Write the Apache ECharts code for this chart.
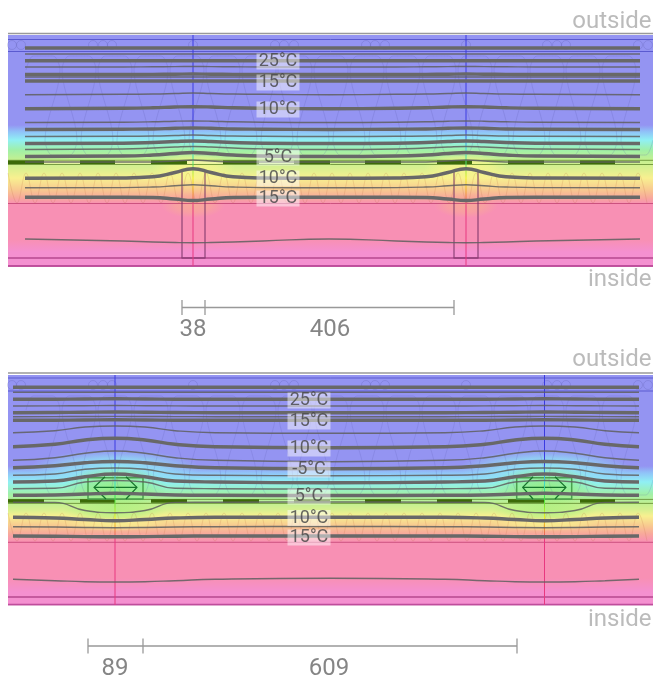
<!DOCTYPE html>
<html><head><meta charset="utf-8">
<style>html,body{margin:0;padding:0;background:#fff}#c{width:653px;height:677px}</style>
<script src="https://cdn.jsdelivr.net/npm/echarts@6/dist/echarts.min.js"></script>
</head><body><div id="c"></div>
<script>
// isotherm profiles: y at distance-from-stud levels [far, mid, near, close, at stud]
const topIsoThick = [
 [48,48,48,48,48],[60.7,60.7,60.7,60.7,60.7],[74.5,74.5,74.4,74.2,74],[81,81,81,81,81],
 [108.7,108.3,107.8,107,106.7],[129.5,129.2,129,128.3,128],[143.5,143.2,142.5,141.5,141],
 [156.5,156,155,153.5,152.5],[178.3,178,176.8,172.5,168.8],[197.3,197.3,197.5,199,200.5]];
const topIsoThin = [
 [54,54,54,54,54],[67,67,66.8,66.6,66.5],[77,77,77,77,77],[94.7,94.3,94,93.5,93],
 [122.5,122.2,121.8,121.2,121],[136.5,136.3,136,135.5,135],[149.5,149,148,147,146.5],
 [162,162,162,161,160],[187.7,187.6,187,185.8,184.7],[239,241,242,242.5,242.7]];
const botIsoThick = [
 [387.3,387.3,387.3,387.3,387.3],[399.3,399.3,399.2,399,398.7],[412.7,412.7,412.5,412.2,412],
 [420.3,420.3,420.2,420,419.7],[447.7,446.7,444.3,440,438.3],[468.7,467.7,465.7,462.7,461.5],
 [482.7,482,481,476.7,474],[495.5,495.3,495,494,493.3],[517.3,517.3,518,519.5,520.7],[536,536,536.2,536.6,536.7]];
const botIsoThin = [
 [392.3,392.3,392.3,392.3,392.3],[406,406,405.9,405.7,405.5],[416.7,416.7,416.6,416.5,416.4],
 [433.3,432.7,430.7,427,426],[461.7,460.3,457.7,453.3,451],[475.7,475.3,474,469.3,468],
 [489,488.7,488.3,482,480.5],[502,502.2,502.4,510.5,512.7],[526.5,526.7,527,527.5,527.7],[578.3,579.3,580.7,581.7,582]];
// knots: x position and which profile level applies there
const topKnotX   = [25,123,153,175,193,211,233,263,329,396,426,448,466,484,506,536,640];
const topKnotLvl = [0,1,2,3,4,3,2,1,0,1,2,3,4,3,2,1,0];
const botKnotX   = [13,55,85,115,145,175,215,330,445,485,515,544.5,575,605,639];
const botKnotLvl = [1,2,3,4,3,2,1,0,1,2,3,4,3,2,1];

// temperature colour bands
const bandColors = ['#9494f2','#9494f2','#90c4f8','#90f0f4','#a0f0a8','#c4f090','#d8f090','#f8f090','#f8c890','#f8a89c','#f890b4','#f890b4','#f490d0','#f490d0'];
const topBandY = [35,125,132,140,150,160,168,178,190,198,204,240,252,266.5];
const botBandY = [375,466,473,482,494,504,510,516,526,534,542,578,592,605];

// structure
const studTop = [193,466];
const studBot = [115,544.5];
const panelTopY = [33.5,373];
const blueLines = [39.5,51.5,378,391];
const plateThin = [203.5,542.3];
const plateMid = [258,597];
const plateEdge = [266,604.7];
const membraneDarkX = [[8,44],[80,115],[151,187],[223,259],[294,330],[365,401],[437,472],[508,544],[580,615]];
const membraneLightTopX = [[44,80],[115,151],[187,223]];
const membraneY = [162.2,501];
const membraneEdges = [160.3,164.5,499.4,503.4];
const studRects = [[182,205],[454,478]];
const studRectY = [171,258];
const boxRects = [[88,143],[516.7,571.7]];
const boxRectY = [477.7,499];
const diamondL = [[105,476.7],[94,487.4],[106,499]];
const diamondR = [[126,476.7],[137,487.4],[126,499]];
const diamondMid = [[94,487.4],[137,487.4]];
const diamond2L = [[533,476.7],[522.7,487.4],[533,499]];
const diamond2R = [[555,476.7],[566,487.4],[555,499]];
const diamond2Mid = [[522.7,487.4],[566,487.4]];

// thermal glows at the studs: x, y, w, h, colour
const glowX = [193,466,193,466,115,544.5,115,544.5,115,544.5,115,544.5];
const glowY = [168,168,205,205,468,468,487,487,510,510,524,524];
const glowW = [84,84,64,64,170,170,104,104,104,104,110,110];
const glowH = [30,30,26,26,36,36,42,42,26,26,14,14];
const glowC = ['rgba(250,246,140,','rgba(250,246,140,','rgba(248,170,150,','rgba(248,170,150,',
 'rgba(144,240,244,','rgba(144,240,244,','rgba(150,238,130,','rgba(150,238,130,','rgba(176,240,130,','rgba(176,240,130,','rgba(248,240,144,','rgba(248,240,144,'];

// wool pattern
const woolCrest = [43,79,115,151,187,223,259,295,331,367,403,439,475,511,547,583,619];
const woolOffX = [-17,-10,10,17,2,9,27,34];
const woolTopOffY = [70,56,56,70,140,155,155,140];
const woolBotOffY = [410,396,396,410,480,495,495,480];
const loopX = [8,17,26,35,44,53,62,71,80,89,98,107,116,125,134,143,152,161,170,179,188,197,206,215,224,233,242,251,260,269,278,287,296,305,314,323,332,341,350,359,368,377,386,395,404,413,422,431,440,449,458,467,476,485,494,503,512,521,530,539,548,557,566,575,584,593,602,611,620,629,638,647];
const ringX = [12,21,93,103,112,193,275,284,294,366,375,385,466,547,557,566,638,648];
const ringY = [45,385];

// dimension brackets
const dimTopX = [182,205,454];
const dimBotX = [88,143,517];
const dimY = [307.5,646];
const dimTick = 7.5;

// texts
const isoLabels = ['25°C','15°C','10°C','5°C','10°C','15°C','25°C','15°C','10°C','-5°C','5°C','10°C','15°C'];
const isoLabelX = [278,278,278,278,278,278,309,309,309,309,309,309,309];
const isoLabelY = [61.5,82.5,109.5,157.5,178.5,198.5,400.5,421.5,448.5,469.5,496.5,518,537.5];
const sideLabels = ['outside','inside','outside','inside'];
const sideLabelY = [22,280,360,620];
const dimLabels = ['38','406','89','609'];
const dimLabelX = [193,330,115,329];
const dimLabelY = [330,330,669,669];

function bandGradient(ys){
  const y0=ys[0],h=ys[ys.length-1]-y0;
  return {type:'linear',x:0,y:0,x2:0,y2:1,colorStops:ys.map((y,i)=>({offset:(y-y0)/h,color:bandColors[i]}))};
}
const series=[];
function line(data,color,width,z,extra){
  series.push(Object.assign({type:'line',data,showSymbol:false,symbol:'none',silent:true,z,
    lineStyle:{color,width,cap:'butt',join:'round'},animation:false},extra||{}));
}
function bg(y0,y1,ys){
  series.push({type:'line',data:[],z:1,silent:true,markArea:{silent:true,z:1,
    data:[[{coord:[8,y0]},{coord:[653,y1]}]],itemStyle:{color:bandGradient(ys),opacity:1}}});
}
bg(35,266.5,topBandY);bg(375,605,botBandY);

// glows
series.push({type:'scatter',z:2,silent:true,data:glowX.map((x,i)=>({value:[x,glowY[i]],symbolSize:[glowW[i],glowH[i]],
  itemStyle:{opacity:1,color:{type:'radial',x:.5,y:.5,r:.5,colorStops:[{offset:0,color:glowC[i]+'0.9)'},{offset:.55,color:glowC[i]+'0.6)'},{offset:1,color:glowC[i]+'0)'}]}}}))});

// wool
function wool(offY){
  const d=[];
  woolCrest.forEach(c=>woolOffX.forEach((o,i)=>{const x=c+o;if(x<=653)d.push([x,offY[i]]);}));
  return d;
}
line(wool(woolTopOffY),'rgba(90,90,170,.2)',1,3,{smooth:.3});
line(wool(woolBotOffY),'rgba(90,90,170,.18)',1,3,{smooth:.3});
function loops(a,b){const d=[];loopX.forEach((x,i)=>{d.push([x,i%2?b:a]);});return d;}
line(loops(173,203),'rgba(190,110,70,.2)',1,3,{smooth:.4});
line(loops(513,541),'rgba(190,110,70,.2)',1,3,{smooth:.4});
ringY.forEach(y=>{
  series.push({type:'scatter',z:3,silent:true,symbol:'circle',symbolSize:9,data:ringX.map(x=>[x,y]),
    itemStyle:{color:'rgba(0,0,0,0)',borderColor:'rgba(90,90,170,.25)',borderWidth:1,opacity:1}});
});

// construction lines
panelTopY.forEach(y=>line([[8,y],[653,y]],'#999',1.5,4));
blueLines.forEach(y=>line([[8,y],[653,y]],'#5a5ad0',1,4));
plateThin.forEach(y=>line([[8,y],[653,y]],'rgba(190,60,110,.75)',1,4));
plateMid.forEach(y=>line([[8,y],[653,y]],'rgba(170,60,130,.85)',1.3,4));
plateEdge.forEach(y=>line([[8,y],[653,y]],'rgba(185,70,150,.9)',1.8,4));
membraneEdges.forEach(y=>line([[8,y],[653,y]],'rgba(90,130,40,.75)',1,4));
membraneY.forEach((y,k)=>{
  if(k===0){const l=[];membraneLightTopX.forEach(s=>{l.push([s[0],y],[s[1],y],['-','-']);});
    line(l,'rgba(240,245,170,.8)',3,4);}
  const d=[];membraneDarkX.forEach(s=>{d.push([s[0],y],[s[1],y],['-','-']);});
  line(d,'#3c6a08',3.5,5);
});
studRects.forEach(r=>line([[r[0],studRectY[0]],[r[0],studRectY[1]],[r[1],studRectY[1]],[r[1],studRectY[0]]],'rgba(120,50,100,.65)',1.5,5));
boxRects.forEach(r=>line([[r[0],boxRectY[0]],[r[1],boxRectY[0]],[r[1],boxRectY[1]],[r[0],boxRectY[1]],[r[0],boxRectY[0]]],'#4aa04e',1.5,5));
[diamondL,diamondR,diamondMid,diamond2L,diamond2R,diamond2Mid].forEach(d=>line(d,'#16752c',1.3,5));

// stud centre lines with temperature colours
function centre(x,y0,y1,stops){
  line([[x,y0],[x,y1]],{type:'linear',x:0,y:y0,x2:0,y2:y1,global:true,colorStops:stops},1,6);
}
const centreTop=[{offset:0,color:'#3b3be0'},{offset:.42,color:'#3b3be0'},{offset:.5,color:'#40d8e0'},{offset:.56,color:'#50e060'},{offset:.62,color:'#f0f020'},{offset:.68,color:'#f0a030'},{offset:.74,color:'#e83880'},{offset:1,color:'#e83880'}];
studTop.forEach(x=>centre(x,35,266,centreTop));
const centreBot=[{offset:0,color:'#3b3be0'},{offset:.38,color:'#3b3be0'},{offset:.46,color:'#40d8e0'},{offset:.54,color:'#40e040'},{offset:.62,color:'#f0f020'},{offset:.66,color:'#f0a030'},{offset:.72,color:'#e83880'},{offset:1,color:'#e83880'}];
studBot.forEach(x=>centre(x,375,605,centreBot));

// isotherms
function iso(list,kx,kl,width,color){
  list.forEach(p=>line(kx.map((x,i)=>[x,p[kl[i]]]),color,width,7,{smooth:.5}));
}
iso(topIsoThin,topKnotX,topKnotLvl,1.4,'rgba(95,95,95,.85)');
iso(topIsoThick,topKnotX,topKnotLvl,3.4,'#686868');
iso(botIsoThin,botKnotX,botKnotLvl,1.4,'rgba(95,95,95,.85)');
iso(botIsoThick,botKnotX,botKnotLvl,3.4,'#686868');

// dimensions
dimY.forEach((y,k)=>{
  const xs=k?dimBotX:dimTopX;
  line([[xs[0],y],[xs[2],y]],'#999',1.3,4);
  xs.forEach(x=>line([[x,y-dimTick],[x,y+dimTick]],'#999',1.3,4));
});

// texts
function text(x,y,t,fs,color,opts){
  series.push({type:'scatter',z:9,silent:true,symbolSize:1,data:[[x,y]],itemStyle:{color:'rgba(0,0,0,0)'},
    label:Object.assign({show:true,position:'inside',formatter:t,fontFamily:'Roboto',fontSize:fs,color},opts||{})});
}
isoLabels.forEach((t,i)=>text(isoLabelX[i],isoLabelY[i],t,18,'#444',{backgroundColor:'rgba(255,255,255,.6)',padding:[0,2],lineHeight:16,width:39,align:'center',verticalAlign:'middle'}));
sideLabels.forEach((t,i)=>text(652,sideLabelY[i],t,24,'#aaa',{position:'left',distance:0}));
dimLabels.forEach((t,i)=>text(dimLabelX[i],dimLabelY[i],t,24,'#666'));

const chart=echarts.init(document.getElementById('c'),null,{renderer:'canvas'});
chart.setOption({animation:false,backgroundColor:'#fff',
  grid:{left:0,top:0,right:0,bottom:0},
  xAxis:{type:'value',min:0,max:653,show:false},
  yAxis:{type:'value',min:0,max:677,inverse:true,show:false},
  tooltip:{show:false},series});
</script></body></html>
